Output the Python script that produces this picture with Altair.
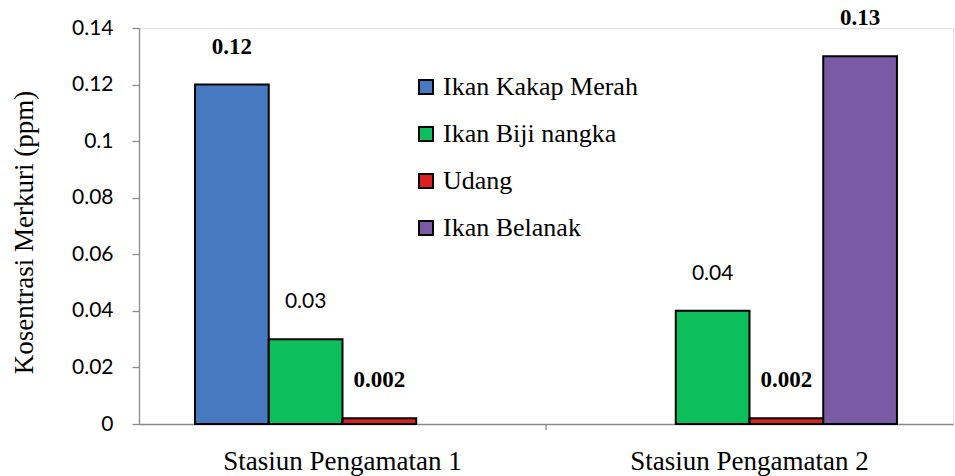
import altair as alt
import pandas as pd

stations = ["Stasiun Pengamatan 1", "Stasiun Pengamatan 2"]
series = ["Ikan Kakap Merah", "Ikan Biji nangka", "Udang", "Ikan Belanak"]
colors = ["#4779c0", "#0cbf5c", "#dc1f1f", "#7a5aa4"]

bar_station = ["Stasiun Pengamatan 1", "Stasiun Pengamatan 1", "Stasiun Pengamatan 1",
               "Stasiun Pengamatan 2", "Stasiun Pengamatan 2", "Stasiun Pengamatan 2"]
bar_series = ["Ikan Kakap Merah", "Ikan Biji nangka", "Udang",
              "Ikan Biji nangka", "Udang", "Ikan Belanak"]
bar_value = [0.12, 0.03, 0.002, 0.04, 0.002, 0.13]
label_bold = [True, False, True, False, True, True]

df = pd.DataFrame({
    "station": bar_station,
    "series": bar_series,
    "value": bar_value,
    "bold": label_bold,
})

W, H = 814, 396
SERIF = "Liberation Serif"
SANS = "Lato"

x_enc = alt.X("station:N", sort=stations, title=None,
              scale=alt.Scale(domain=stations, paddingInner=0, paddingOuter=0),
              axis=alt.Axis(labelAngle=0, ticks=False, labelFont=SERIF, labelFontSize=27,
                            labelColor="#000000", labelPadding=24, domainColor="#8a8a8a",
                            domainWidth=1.3, labelLimit=500))
xoff_enc = alt.XOffset("series:N", sort=series,
                       scale=alt.Scale(domain=series, paddingInner=0, paddingOuter=0.76))
y_enc = alt.Y("value:Q", title="Kosentrasi Merkuri (ppm)",
              scale=alt.Scale(domain=[0, 0.14], nice=False),
              axis=alt.Axis(values=[0, 0.02, 0.04, 0.06, 0.08, 0.1, 0.12, 0.14], format="~g",
                            grid=False, tickSize=7, tickColor="#8a8a8a", domainColor="#8a8a8a",
                            domainWidth=1.3, tickWidth=1.3,
                            labelFont=SANS, labelFontSize=21, labelColor="#000000",
                            labelPadding=19, titleFont=SERIF, titleFontSize=27,
                            titleFontWeight="normal", titleColor="#000000",
                            titleX=-115, titleY=204, titleAngle=-90,
                            titleBaseline="middle", titleAlign="center"))

bars = alt.Chart(df).mark_bar(stroke="#000000", strokeWidth=2).encode(
    x=x_enc,
    xOffset=xoff_enc,
    y=y_enc,
    color=alt.Color("series:N", sort=series,
                    scale=alt.Scale(domain=series, range=colors),
                    legend=alt.Legend(title=None, orient="none", legendX=274, legendY=46,
                                      symbolType="square", symbolSize=196,
                                      symbolStrokeColor="#000000", symbolStrokeWidth=2,
                                      labelFont=SERIF, labelFontSize=26, labelColor="#000000",
                                      labelOffset=4, rowPadding=21, labelLimit=400)),
)

text_bold = alt.Chart(df).transform_filter("datum.bold").mark_text(
    font=SERIF, fontSize=23, fontWeight="bold", baseline="alphabetic", dy=-31, color="#000000"
).encode(
    x=alt.X("station:N", sort=stations),
    xOffset=alt.XOffset("series:N", sort=series),
    y=alt.Y("value:Q"),
    text=alt.Text("value:Q", format=".3~f"),
)

text_reg = alt.Chart(df).transform_filter("!datum.bold").mark_text(
    font=SANS, fontSize=21, baseline="alphabetic", dy=-31, color="#000000"
).encode(
    x=alt.X("station:N", sort=stations),
    xOffset=alt.XOffset("series:N", sort=series),
    y=alt.Y("value:Q"),
    text=alt.Text("value:Q", format=".3~f"),
)

sep = alt.Chart(pd.DataFrame({"station": [stations[1]]})).mark_rule(
    color="#8a8a8a", strokeWidth=1.3
).encode(
    x=alt.X("station:N", sort=stations, bandPosition=0),
    y=alt.value(H),
    y2=alt.value(H + 6),
)

chart = alt.layer(bars, text_bold, text_reg, sep).properties(
    width=W, height=H,
    autosize=alt.AutoSizeParams(type="none"),
    padding={"left": 139, "top": 28, "right": 2, "bottom": 52},
).configure_view(stroke=None).configure(background="#ffffff").configure_legend(
    labelFont=SERIF, labelFontSize=26, labelColor="#000000"
)

chart.save("out.html", embed_options={"renderer": "svg", "actions": False})
